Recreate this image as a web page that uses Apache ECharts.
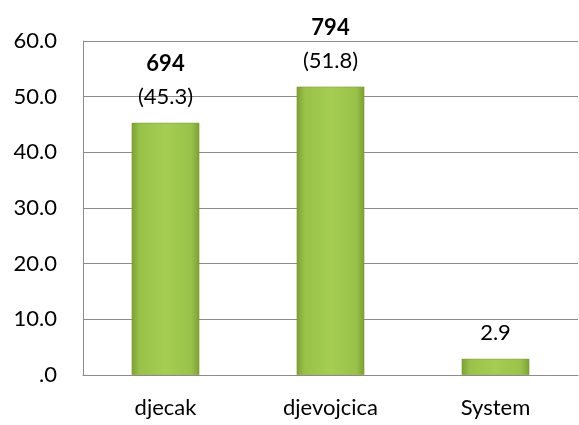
<!DOCTYPE html>
<html>
<head>
<meta charset="utf-8">
<script src="https://cdn.jsdelivr.net/npm/echarts@6/dist/echarts.min.js"></script>
<style>
  html, body { margin: 0; padding: 0; background: #fff; }
  #chart { width: 579px; height: 425px; }
</style>
</head>
<body>
<div id="chart"></div>
<script>
// data
const categories = ["djecak", "djevojcica", "System"];
const percents = [45.3, 51.8, 2.9];
const counts = ["694", "794", ""];
const yTicks = { min: 0, max: 60, interval: 10 };

const font = "Lato";
const fs = 22;

const chart = echarts.init(document.getElementById("chart"));

// green bar like the excel bevel
const barColor = new echarts.graphic.LinearGradient(0, 0, 1, 0, [
  { offset: 0, color: "#7e9f35" },
  { offset: 0.12, color: "#98c249" },
  { offset: 0.5, color: "#a4cd52" },
  { offset: 0.88, color: "#98c249" },
  { offset: 1, color: "#7e9f35" }
]);

chart.setOption({
  animation: false,
  grid: { left: 83, right: 1, top: 41, bottom: 50 },
  xAxis: {
    type: "category",
    data: categories,
    axisLine: { show: true, lineStyle: { color: "#8c8c8c" } },
    axisTick: { show: false },
    axisLabel: { color: "#000", fontFamily: font, fontSize: fs, margin: 22 }
  },
  yAxis: {
    type: "value",
    min: yTicks.min,
    max: yTicks.max,
    interval: yTicks.interval,
    axisLine: { show: true, lineStyle: { color: "#8c8c8c" } },
    axisTick: { show: false },
    splitLine: { lineStyle: { color: "#8c8c8c" } },
    axisLabel: {
      color: "#000",
      fontFamily: font,
      fontSize: fs,
      margin: 26,
      formatter: function (v) {
        return v === 0 ? ".0" : v.toFixed(1);
      }
    }
  },
  series: [
    {
      type: "bar",
      data: percents,
      barWidth: "41%",
      itemStyle: { color: barColor, borderColor: "#7a9a33", borderWidth: 0.5 },
      label: {
        show: true,
        position: "top",
        distance: 9,
        fontFamily: font,
        fontSize: fs,
        color: "#000",
        formatter: function (p) {
          var c = counts[p.dataIndex];
          var v = p.value.toFixed(1);
          if (c) return "{b|" + c + "}\n{n|(" + v + ")}";
          return "{n|" + v + "}";
        },
        rich: {
          b: { fontWeight: "bold", fontFamily: font, fontSize: fs, lineHeight: 33, color: "#000" },
          n: { fontFamily: font, fontSize: fs, lineHeight: 33, color: "#000" }
        }
      }
    }
  ]
});
</script>
</body>
</html>
